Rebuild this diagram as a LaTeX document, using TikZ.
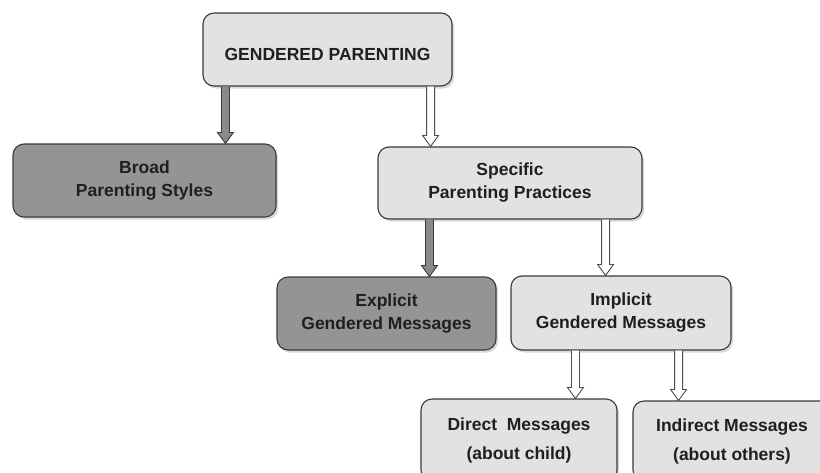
\documentclass[tikz,border=0pt]{standalone}
\usepackage{fontspec}
\setmainfont{Liberation Sans}
\usetikzlibrary{calc,shadows}
\definecolor{lightbox}{HTML}{E2E2E4}
\definecolor{darkbox}{HTML}{949494}
\definecolor{edge}{HTML}{3A3A3A}
\definecolor{darkarrow}{HTML}{8A8A8A}
\tikzset{
  boxbase/.style={draw=edge, line width=1.1pt, rounded corners=11pt, inner sep=0pt,
    align=center, font=\bfseries\fontsize{17.5}{23}\selectfont, text=black!88,
    drop shadow={shadow xshift=2pt, shadow yshift=-2.5pt, opacity=0.3}},
  lightbox/.style={boxbase, fill=lightbox},
  darkbox/.style={boxbase, fill=darkbox},
  darkarr/.style={draw=edge, line width=0.9pt, fill=darkarrow, line join=miter},
  whitearr/.style={draw=black!70, line width=0.9pt, fill=white, line join=miter}
}
\newcommand\blkarrow[3]{%
  \draw[#1] let \p1=(#2), \p2=(#3) in
    (\x1-4pt,\y1) -- (\x1-4pt,\y2+11pt) -- (\x1-8pt,\y2+11pt) -- (\x1,\y2)
    -- (\x1+8pt,\y2+11pt) -- (\x1+4pt,\y2+11pt) -- (\x1+4pt,\y1);}
\begin{document}
\begin{tikzpicture}[x=1pt,y=-1pt]
\useasboundingbox (0,0) rectangle (820,472);
\clip (0,0) rectangle (820,472);
\node[lightbox, minimum width=249pt, minimum height=73pt, text height=22.5pt, text depth=0pt] (gp) at (327.5,49.5) {GENDERED PARENTING};
\node[darkbox, minimum width=263pt, minimum height=73pt] (bps) at (144.5,180.5) {Broad\\Parenting Styles};
\node[lightbox, minimum width=264pt, minimum height=72pt] (spp) at (510,183) {Specific\\Parenting Practices};
\node[darkbox, minimum width=219pt, minimum height=73pt] (egm) at (386.5,313.5) {Explicit\\Gendered Messages};
\node[lightbox, minimum width=220pt, minimum height=74pt] (igm) at (621,313) {Implicit\\Gendered Messages};
\node[lightbox, minimum width=196pt, minimum height=82pt, font=\bfseries\fontsize{17.5}{29}\selectfont] (dm) at (519,440) {Direct\ \ Messages\\(about child)};
\node[lightbox, minimum width=198pt, minimum height=80pt, font=\bfseries\fontsize{17.5}{29}\selectfont] (im) at (732,441) {Indirect Messages\\(about others)};
\coordinate (a1) at ([xshift=23pt]gp.south west);
\coordinate (a2) at ([xshift=-22pt]gp.south east);
\coordinate (a3) at ([xshift=52pt]spp.south west);
\coordinate (a4) at ([xshift=-37pt]spp.south east);
\coordinate (a5) at ([xshift=65pt]igm.south west);
\coordinate (a6) at ([xshift=-53pt]igm.south east);
\blkarrow{darkarr}{a1}{a1 |- bps.north}
\blkarrow{whitearr}{a2}{a2 |- spp.north}
\blkarrow{darkarr}{a3}{a3 |- egm.north}
\blkarrow{whitearr}{a4}{a4 |- igm.north}
\blkarrow{whitearr}{a5}{a5 |- dm.north}
\blkarrow{whitearr}{a6}{a6 |- im.north}
\end{tikzpicture}
\end{document}
